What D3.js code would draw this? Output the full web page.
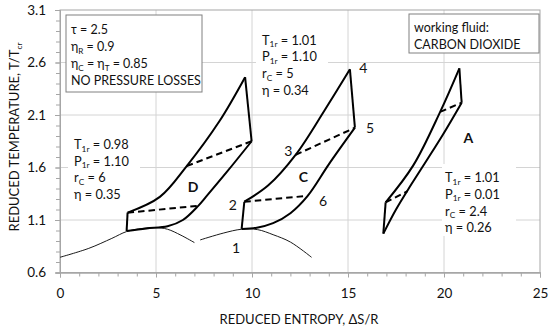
<!DOCTYPE html>
<html><head><meta charset="utf-8">
<script src="https://cdn.jsdelivr.net/npm/d3@7"></script>
<style>
body{margin:0;background:#fff}
svg{display:block}
text{font-family:Lato,"Open Sans",sans-serif;fill:#111}
</style>
</head><body>
<svg id="chart" width="550" height="333"></svg>
<script>
// ---------- data ----------
const xTicks = [0, 5, 10, 15, 20, 25];
const yTicks = [0.6, 1.1, 1.6, 2.1, 2.6, 3.1];
const xMinor = d3.range(0, 25.01, 1);
const yMinor = d3.range(0.6, 3.101, 0.1);

// saturation dome (thin lines)
const dome1 = [[0,0.745],[1.5,0.83],[2.7,0.925],[3.47,0.99],[4.3,1.02],[5.0,1.028],[5.6,1.012],[6.3,0.955],[7.0,0.885]];
const dome2 = [[7.3,0.91],[8.5,0.975],[9.46,1.012],[10.3,1.008],[11.1,0.96],[12.0,0.89],[13.1,0.745]];

// cycle D
const dCompression = [[3.47,0.995],[3.52,1.17]];
const dHeating = [[3.52,1.17],[5.2,1.32],[6.6,1.614],[8.3,2.04],[9.64,2.46]];
const dExpansion = [[9.64,2.46],[9.98,1.85]];
const dCooling = [[9.98,1.85],[8.7,1.56],[7.6,1.32],[7.2,1.235],[6.4,1.1],[5.6,1.04],[4.5,1.02],[3.47,0.995]];
const dRegenHot = [[6.6,1.614],[9.98,1.85]];
const dRegenCold = [[3.52,1.17],[7.2,1.235]];

// cycle C
const cCompression = [[9.46,1.015],[9.6,1.274]];
const cHeating = [[9.6,1.274],[10.85,1.43],[12.27,1.72],[13.8,2.15],[15.1,2.535]];
const cExpansion = [[15.1,2.535],[15.36,1.979]];
const cCooling = [[15.36,1.979],[14.0,1.63],[12.9,1.33],[12.0,1.165],[11.1,1.07],[10.25,1.027],[9.46,1.015]];
const cRegenHot = [[12.27,1.72],[15.36,1.979]];
const cRegenCold = [[9.6,1.274],[12.9,1.33]];

// cycle A
const aCompression = [[16.84,0.97],[16.96,1.268]];
const aHeating = [[16.96,1.268],[18.4,1.62],[19.8,2.13],[20.8,2.545]];
const aExpansion = [[20.8,2.545],[20.92,2.217]];
const aCooling = [[20.92,2.217],[19.9,1.9],[18.3,1.44],[17.5,1.2],[16.84,0.97]];
const aRegenHot = [[19.8,2.13],[20.92,2.217]];
const aRegenCold = [[16.96,1.268],[18.1,1.375]];

// state-point labels [text, s, T, bold]
const pointLabels = [
  ["1", 9.17, 0.833, false], ["2", 9.0, 1.246, false], ["3", 11.89, 1.76, false],
  ["4", 15.8, 2.545, false], ["5", 16.15, 1.973, false], ["6", 13.7, 1.28, false],
  ["C", 12.67, 1.513, true], ["D", 6.93, 1.417, true], ["A", 21.27, 1.878, true]
];

// parameter blocks: lines of [text, isSubscript] parts
const blockD = [[["T",0],["1r",1],[" = 0.98",0]], [["P",0],["1r",1],[" = 1.10",0]], [["r",0],["C",1],[" = 6",0]], [["η = 0.35",0]]];
const blockC = [[["T",0],["1r",1],[" = 1.01",0]], [["P",0],["1r",1],[" = 1.10",0]], [["r",0],["C",1],[" = 5",0]], [["η = 0.34",0]]];
const blockA = [[["T",0],["1r",1],[" = 1.01",0]], [["P",0],["1r",1],[" = 0.01",0]], [["r",0],["C",1],[" = 2.4",0]], [["η = 0.26",0]]];
const boxConditions = [[["τ = 2.5",0]], [["η",0],["R",1],[" = 0.9",0]], [["η",0],["C",1],[" = η",0],["T",1],[" = 0.85",0]], [["NO PRESSURE LOSSES",0]]];
const boxFluid = [[["working fluid:",0]], [["CARBON DIOXIDE",0]]];

// ---------- layout ----------
const svg = d3.select("#chart");
const L = 60, R = 540, T = 10, B = 272.5;
const x = d3.scaleLinear().domain([0, 25]).range([L, R]);
const y = d3.scaleLinear().domain([0.6, 3.1]).range([B, T]);
const gridC = "#d4d4d4", axisC = "#a6a6a6";

// grid
svg.append("g").selectAll("line").data(xTicks.slice(1, -1)).join("line")
  .attr("x1", d => x(d)).attr("x2", d => x(d)).attr("y1", T).attr("y2", B)
  .attr("stroke", gridC).attr("stroke-width", 1);
svg.append("g").selectAll("line").data(yTicks.slice(1, -1)).join("line")
  .attr("y1", d => y(d)).attr("y2", d => y(d)).attr("x1", L).attr("x2", R)
  .attr("stroke", gridC).attr("stroke-width", 1);
// frame
svg.append("rect").attr("x", L).attr("y", T).attr("width", R - L).attr("height", B - T)
  .attr("fill", "none").attr("stroke", axisC).attr("stroke-width", 1);

// axes
function styleAxis(g) {
  g.select(".domain").attr("stroke", axisC);
  g.selectAll(".tick line").attr("stroke", axisC);
  g.selectAll(".tick text").attr("font-size", 13.5).attr("fill", "#111")
   .attr("font-family", "Lato,'Open Sans',sans-serif");
}
svg.append("g").attr("transform", `translate(0,${B})`)
  .call(d3.axisBottom(x).tickValues(xMinor).tickSize(4).tickFormat(""))
  .call(styleAxis);
svg.append("g").attr("transform", `translate(0,${B})`)
  .call(d3.axisBottom(x).tickValues(xTicks).tickSize(5).tickPadding(11).tickFormat(d3.format("d")))
  .call(styleAxis);
svg.append("g").attr("transform", `translate(${L},0)`)
  .call(d3.axisLeft(y).tickValues(yMinor).tickSize(4).tickFormat(""))
  .call(styleAxis);
svg.append("g").attr("transform", `translate(${L},0)`)
  .call(d3.axisLeft(y).tickValues(yTicks).tickSize(5).tickPadding(9).tickFormat(d3.format(".1f")))
  .call(styleAxis);

// axis titles
svg.append("text").attr("x", 299).attr("y", 324).attr("text-anchor", "middle")
  .attr("font-size", 13).text("REDUCED ENTROPY, ΔS/R");
const yt = svg.append("text").attr("transform", "translate(19,137) rotate(-90)")
  .attr("text-anchor", "middle").attr("font-size", 13);
function rich(t, parts, fs) {
  let sub = false;
  parts.forEach(([s, isSub]) => {
    const ts = t.append("tspan").text(s);
    if (isSub && !sub) { ts.attr("font-size", fs * 0.65).attr("dy", fs * 0.2); sub = true; }
    else if (isSub) { ts.attr("font-size", fs * 0.65); }
    else if (!isSub && sub) { ts.attr("dy", -fs * 0.2); sub = false; }
  });
}
rich(yt, [["REDUCED TEMPERATURE, T/T",0],["cr",1]], 13);

// text blocks
function block(lines, x0, y0, dy, fs, bg, border) {
  const g = svg.append("g");
  if (bg) g.append("rect").attr("x", bg[0]).attr("y", bg[1]).attr("width", bg[2]).attr("height", bg[3])
    .attr("fill", "#fff").attr("stroke", border ? "#808080" : "none").attr("stroke-width", 1);
  lines.forEach((parts, i) => {
    const t = g.append("text").attr("x", x0).attr("y", y0 + i * dy).attr("font-size", fs);
    rich(t, parts, fs);
  });
}
block(boxConditions, 71, 34, 17, 12.5, [66, 15, 136, 77], true);
block(boxFluid, 414, 31.5, 17, 12.5, [409, 14, 130, 39], true);
block(blockD, 74, 149, 16.5, 12.8, [68, 133, 72, 68], false);
block(blockC, 262, 44.5, 16.8, 12.8, [256, 29, 72, 68], false);
block(blockA, 445, 182, 16.8, 12.8, [442, 164, 74, 72], false);

// curves
const line = d3.line().x(d => x(d[0])).y(d => y(d[1])).curve(d3.curveCatmullRom.alpha(0.5));
const straight = d3.line().x(d => x(d[0])).y(d => y(d[1]));
const thin = [dome1, dome2];
svg.append("g").selectAll("path").data(thin).join("path")
  .attr("d", line).attr("fill", "none").attr("stroke", "#1a1a1a").attr("stroke-width", 1);
const solid = [dCompression, dHeating, dExpansion, dCooling,
               cCompression, cHeating, cExpansion, cCooling,
               aCompression, aHeating, aExpansion, aCooling];
svg.append("g").selectAll("path").data(solid).join("path")
  .attr("d", d => d.length > 2 ? line(d) : straight(d)).attr("fill", "none")
  .attr("stroke", "#000").attr("stroke-width", 2).attr("stroke-linejoin", "round");
const dashed = [dRegenHot, dRegenCold, cRegenHot, cRegenCold, aRegenHot, aRegenCold];
svg.append("g").selectAll("path").data(dashed).join("path")
  .attr("d", straight).attr("fill", "none").attr("stroke", "#000")
  .attr("stroke-width", 2).attr("stroke-dasharray", "6.5,4");

// point labels
svg.append("g").selectAll("text").data(pointLabels).join("text")
  .attr("x", d => x(d[1])).attr("y", d => y(d[2])).attr("dy", "0.35em")
  .attr("text-anchor", "middle").attr("font-size", 14)
  .attr("font-weight", d => d[3] ? "bold" : "normal").text(d => d[0]);
</script>
</body></html>
